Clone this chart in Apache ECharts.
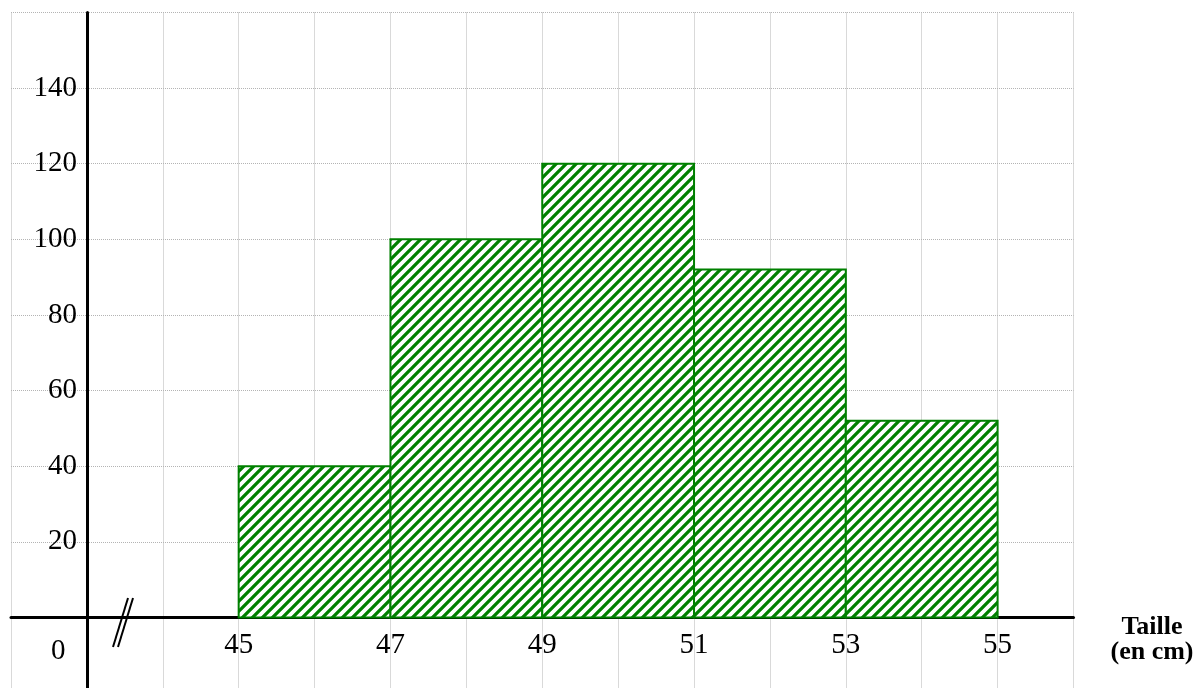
<!DOCTYPE html>
<html>
<head>
<meta charset="utf-8">
<script src="https://cdn.jsdelivr.net/npm/echarts@6/dist/echarts.min.js"></script>
<style>html,body{margin:0;padding:0;background:#fff;}#c{width:1202px;height:688px;}</style>
</head>
<body>
<div id="c"></div>
<script>
// Data: class intervals (cm) and heights
const classStarts = [45, 47, 49, 51, 53];
const classEnds   = [47, 49, 51, 53, 55];
const heights     = [40, 100, 120, 92, 52];
const xTickLabels = [45, 47, 49, 51, 53, 55];
const yTickLabels = [20, 40, 60, 80, 100, 120, 140];
const axisTitle = ['Taille', '(en cm)'];

const green = '#008000';
const S = 10;
const pat = document.createElement('canvas');
pat.width = S; pat.height = S;
const ctx = pat.getContext('2d');
ctx.fillStyle = '#fff'; ctx.fillRect(0,0,S,S);
ctx.strokeStyle = green; ctx.lineWidth = 3.3;
ctx.beginPath();
ctx.moveTo(-1, S+1); ctx.lineTo(S+1, -1);
ctx.moveTo(-S/2, S/2); ctx.lineTo(S/2, -S/2);
ctx.moveTo(S/2, S*1.5); ctx.lineTo(S*1.5, S/2);
ctx.stroke();

const data = classStarts.map((s, i) => [s, classEnds[i], heights[i]]);

const H = 688, TOP = 12.5, BOTTOM = -5, YMIN = -20, YMAX = 160;
const pxPerUnit = (H - TOP - BOTTOM) / (YMAX - YMIN);

const chart = echarts.init(document.getElementById('c'));
const serif = 'Liberation Serif';
chart.setOption({
  animation: false,
  grid: { left: 11, right: 128.5, top: TOP, bottom: BOTTOM, containLabel: false, outerBoundsMode: 'none' },
  xAxis: {
    type: 'value', min: 42, max: 56, interval: 1,
    offset: -(0 - YMIN) * pxPerUnit,
    axisLine: { onZero: false, lineStyle: { color: '#000', width: 3 } },
    axisTick: { show: false },
    splitLine: { show: true, lineStyle: { color: '#b4b4b4', type: 'dotted', width: 1 } },
    axisLabel: {
      fontFamily: serif, fontSize: 29, color: '#000', margin: 14,
      formatter: v => xTickLabels.includes(v) ? String(v) : ''
    }
  },
  yAxis: {
    type: 'value', min: YMIN, max: YMAX, interval: 20,
    offset: -75.9,
    axisLine: { show: true, onZero: false, lineStyle: { color: '#000', width: 3 } },
    axisTick: { show: false },
    splitLine: { show: true, lineStyle: { color: '#b4b4b4', type: 'dotted', width: 1 } },
    axisLabel: {
      fontFamily: serif, fontSize: 29, color: '#000', margin: 10,
      formatter: v => yTickLabels.includes(v) ? String(v) : ''
    }
  },
  series: [{
    type: 'custom',
    data: data,
    renderItem: (params, api) => {
      const p0 = api.coord([api.value(0), 0]);
      const p1 = api.coord([api.value(1), api.value(2)]);
      return {
        type: 'rect',
        shape: { x: p0[0], y: p1[1], width: p1[0] - p0[0], height: p0[1] - p1[1] },
        style: { fill: { image: pat, repeat: 'repeat' }, stroke: green, lineWidth: 2 }
      };
    }
  }],
  graphic: [
    { type: 'text', left: 51, top: 637, style: { text: '0', font: '29px "Liberation Serif"', fill: '#000' } },
    { type: 'line', shape: { x1: 113, y1: 647, x2: 128, y2: 598 }, style: { stroke: '#000', lineWidth: 2 } },
    { type: 'line', shape: { x1: 118, y1: 647, x2: 133, y2: 598 }, style: { stroke: '#000', lineWidth: 2 } },
    { type: 'text', x: 1152, y: 627, style: { text: axisTitle[0], font: 'bold 26px "Liberation Serif"', fill: '#000', align: 'center', verticalAlign: 'middle' } },
    { type: 'text', x: 1152, y: 652, style: { text: axisTitle[1], font: 'bold 26px "Liberation Serif"', fill: '#000', align: 'center', verticalAlign: 'middle' } }
  ]
});
</script>
</body>
</html>
